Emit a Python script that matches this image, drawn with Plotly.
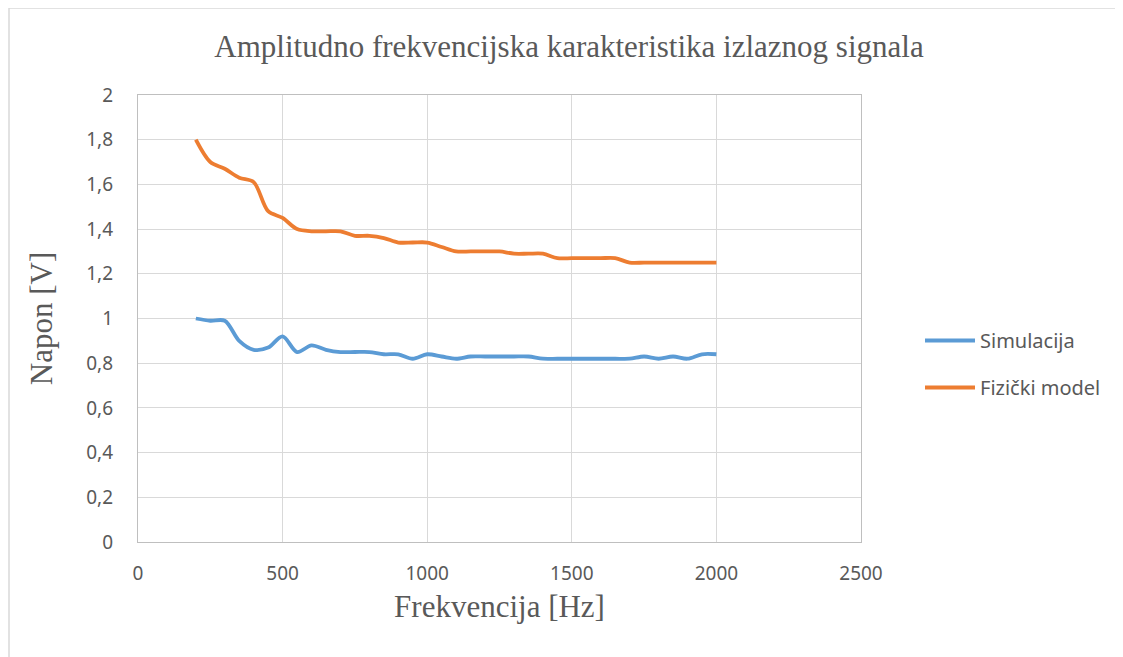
import plotly.graph_objects as go

freq = [200, 250, 300, 350, 400, 450, 500, 550, 600, 650, 700, 750, 800, 850, 900, 950,
        1000, 1050, 1100, 1150, 1200, 1250, 1300, 1350, 1400, 1450, 1500, 1550, 1600,
        1650, 1700, 1750, 1800, 1850, 1900, 1950, 2000]
simulacija = [1.00, 0.99, 0.99, 0.90, 0.86, 0.87, 0.92, 0.85, 0.88, 0.86, 0.85, 0.85, 0.85,
              0.84, 0.84, 0.82, 0.84, 0.83, 0.82, 0.83, 0.83, 0.83, 0.83, 0.83, 0.82, 0.82,
              0.82, 0.82, 0.82, 0.82, 0.82, 0.83, 0.82, 0.83, 0.82, 0.84, 0.84]
fizicki = [1.80, 1.70, 1.67, 1.63, 1.61, 1.48, 1.45, 1.40, 1.39, 1.39, 1.39, 1.37, 1.37,
           1.36, 1.34, 1.34, 1.34, 1.32, 1.30, 1.30, 1.30, 1.30, 1.29, 1.29, 1.29, 1.27,
           1.27, 1.27, 1.27, 1.27, 1.25, 1.25, 1.25, 1.25, 1.25, 1.25, 1.25]

x_ticks = [0, 500, 1000, 1500, 2000, 2500]
y_ticks = [0, 0.2, 0.4, 0.6, 0.8, 1.0, 1.2, 1.4, 1.6, 1.8, 2.0]
y_labels = ["0", "0,2", "0,4", "0,6", "0,8", "1", "1,2", "1,4", "1,6", "1,8", "2"]

fig = go.Figure()
fig.add_trace(go.Scatter(x=freq, y=simulacija, mode="lines", name="Simulacija", legendgroup="a",
                         line=dict(color="#5b9bd5", width=3.8, shape="spline", smoothing=0.9)))
fig.add_trace(go.Scatter(x=freq, y=fizicki, mode="lines", name="Fizički model", legendgroup="b",
                         line=dict(color="#ed7d31", width=3.8, shape="spline", smoothing=0.9)))

OFF = 8  # page body margin
W, H = 1123 - OFF, 657 - OFF
L, R, T, B = 138 - OFF, 861 - OFF, 95 - OFF, 542 - OFF
pw, ph = R - L, B - T
def px(x):
    return (x - OFF - L) / pw
def py(y):
    return (B - (y - OFF)) / ph

tick_font = dict(family="Noto Sans, Liberation Sans, sans-serif", size=19, color="#595959")
serif = "Liberation Serif, Times New Roman, serif"

fig.update_layout(
    width=W, height=H,
    margin=dict(l=L, r=W - R, t=T, b=H - B),
    paper_bgcolor="white", plot_bgcolor="white",
    title=dict(text="Amplitudno frekvencijska karakteristika izlaznog signala",
               font=dict(family=serif, size=31, color="#595959"),
               x=((213 + 925) / 2 - OFF) / W, xanchor="center", y=1 - (46 - OFF) / H, yanchor="middle"),
    xaxis=dict(range=[0, 2500], tickvals=x_ticks, ticktext=[str(v) for v in x_ticks],
               showgrid=True, gridcolor="#d9d9d9", gridwidth=1.3,
               showline=True, linecolor="#bfbfbf", linewidth=1.3, mirror=True,
               zeroline=False, ticks="", tickfont=tick_font, ticklabelstandoff=14,
               title=dict(text="Frekvencija [Hz]", font=dict(family=serif, size=31, color="#595959"),
                          standoff=10)),
    yaxis=dict(range=[0, 2], tickvals=y_ticks, ticktext=y_labels,
               showgrid=True, gridcolor="#d9d9d9", gridwidth=1.3,
               showline=True, linecolor="#bfbfbf", linewidth=1.3, mirror=True,
               zeroline=False, ticks="", tickfont=tick_font, ticklabelstandoff=20,
               title=dict(text="Napon [V]", font=dict(family=serif, size=31, color="#595959"),
                          standoff=24)),
    legend=dict(x=px(920), y=py(321), xanchor="left", yanchor="top",
                font=dict(family="Noto Sans, Liberation Sans, sans-serif", size=20, color="#595959"),
                bgcolor="rgba(0,0,0,0)", tracegroupgap=18, itemwidth=50),
    showlegend=True,
    shapes=[dict(type="rect", xref="paper", yref="paper",
                 x0=px(9), x1=px(1140), y0=py(680), y1=py(8),
                 line=dict(color="#d9d9d9", width=1.5), fillcolor="rgba(0,0,0,0)", layer="below")],
)

fig.write_html("out.html")
